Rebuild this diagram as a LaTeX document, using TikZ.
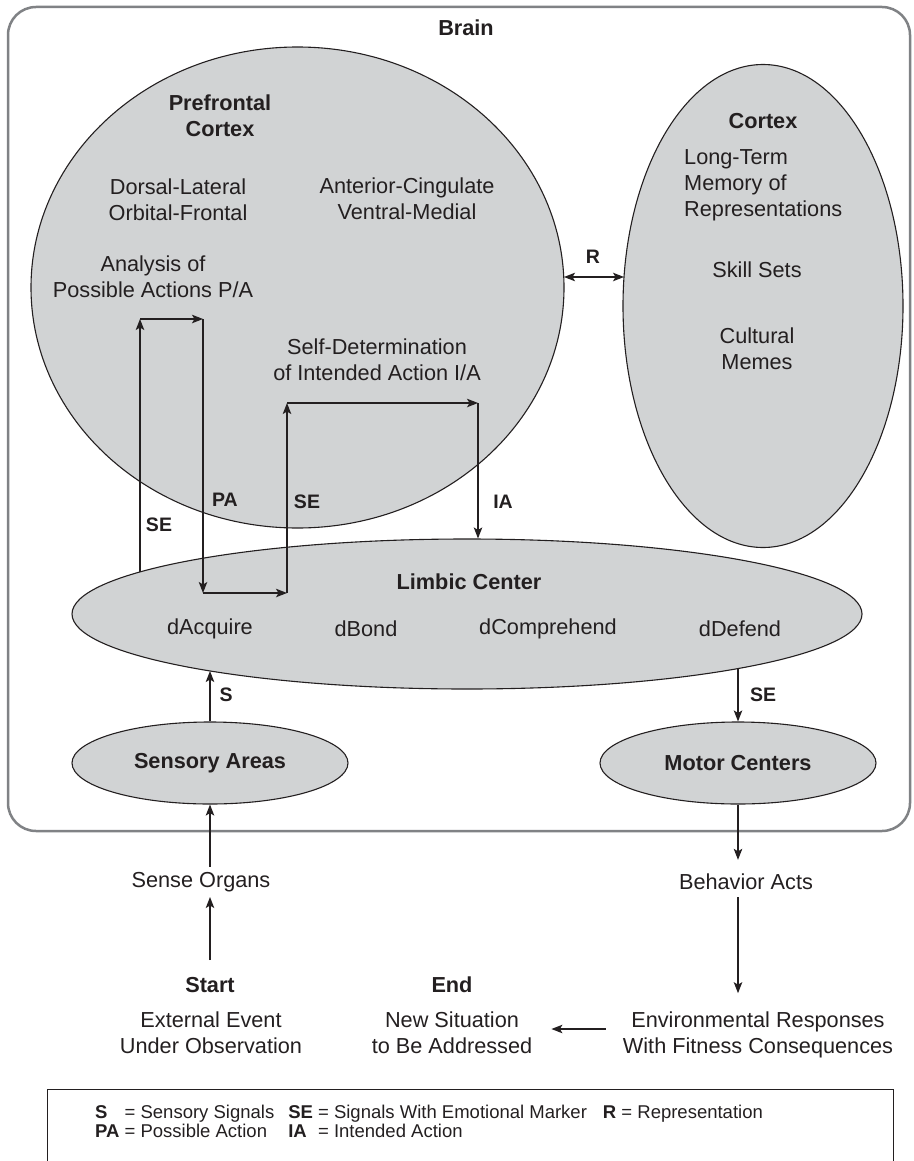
\documentclass[tikz,border=0pt]{standalone}
\usepackage{fontspec}
\setmainfont{Liberation Sans}
\usetikzlibrary{arrows.meta,shapes.geometric,calc}
\definecolor{ink}{HTML}{231F20}
\definecolor{lobefill}{HTML}{D1D3D4}
\definecolor{framegray}{HTML}{808285}
\begin{document}
\begin{tikzpicture}[x=1pt,y=-1pt,
  lobe/.style={ellipse, draw=ink, fill=lobefill, line width=1.1pt, inner sep=0pt},
  txt/.style={text=ink, font=\fontsize{21.7}{26}\selectfont, align=center, inner sep=0pt},
  btxt/.style={text=ink, font=\fontsize{21.7}{26}\selectfont\bfseries, align=center, inner sep=0pt},
  lbl/.style={text=ink, font=\fontsize{19.5}{22}\selectfont\bfseries, inner sep=0pt},
  conn/.style={draw=ink, line width=1.2pt, -{Stealth[length=11pt,width=8.5pt,inset=2.5pt]}},
  conntwo/.style={draw=ink, line width=1.2pt, {Stealth[length=11pt,width=8.5pt,inset=2.5pt]}-{Stealth[length=11pt,width=8.5pt,inset=2.5pt]}},
  keytxt/.style={text=ink, font=\fontsize{18.5}{19.5}\selectfont, inner sep=0pt, anchor=base west},
]
\useasboundingbox (0,0) rectangle (913,1161);

% brain frame
\node[draw=framegray, line width=2.5pt, rounded corners=28pt, minimum width=902pt, minimum height=824pt, inner sep=0pt] (brainbox) at (459,419) {};

% lobes
\node[lobe, minimum width=533pt, minimum height=481pt] (pfc) at (297.5,287.5) {};
\node[lobe, minimum width=280pt, minimum height=483pt] (ctx) at (763,306) {};
\node[lobe, minimum width=790pt, minimum height=150pt] (limbic) at (467,614) {};
\node[lobe, minimum width=276pt, minimum height=82pt] (sens) at (210,763) {};
\node[lobe, minimum width=276pt, minimum height=82pt] (motor) at (738,763) {};

% texts
\node[btxt] (brainlbl) at (466,28) {Brain};
\node[btxt] (pfclbl) at (220,116) {Prefrontal\\Cortex};
\node[txt] (dl) at (178,199.5) {Dorsal-Lateral\\Orbital-Frontal};
\node[txt] (ac) at (407,199) {Anterior-Cingulate\\Ventral-Medial};
\node[txt] (pa) at (153,276.5) {Analysis of\\Possible Actions P/A};
\node[txt] (sd) at (377,360) {Self-Determination\\of Intended Action I/A};
\node[btxt] (ctxlbl) at (763,121) {Cortex};
\node[txt, align=left, anchor=west] (ltm) at (684,185) {Long-Term\\Memory of\\Representations};
\node[txt] (skill) at (757,270) {Skill Sets};
\node[txt] (meme) at (757,348.5) {Cultural\\Memes};
\node[btxt] (limlbl) at (469,582) {Limbic Center};
\node[txt] (dacq) at (210,629) {dAcquire};
\node[txt] (dbond) at (366,629) {dBond};
\node[txt] (dcomp) at (548,629) {dComprehend};
\node[txt] (ddef) at (740,629) {dDefend};
\node[btxt] (senslbl) at (sens) {Sensory Areas};
\node[btxt] (motlbl) at (motor) {Motor Centers};
\node[txt] (sense) at (201,882) {Sense Organs};
\node[txt] (behav) at (746,882) {Behavior Acts};
\node[btxt] (start) at (210,985) {Start};
\node[btxt] (end) at (452,985) {End};
\node[txt] (ext) at (211,1032.5) {External Event\\Under Observation};
\node[txt] (new) at (452,1032.5) {New Situation\\to Be Addressed};
\node[txt] (env) at (758,1034.5) {Environmental Responses\\With Fitness Consequences};

% signal loop inside the brain
\coordinate (p0) at (140,572);
\coordinate (p1) at (140,319);
\coordinate (p2) at (203,319);
\coordinate (p3) at (203,593);
\coordinate (p4) at (287,593);
\coordinate (p5) at (287,403);
\coordinate (p6) at (478,403);
\draw[conn] (p0) -- (p1);
\draw[conn] (p1) -- (p2);
\draw[conn] (p2) -- (p3);
\draw[conn] (p3) -- (p4);
\draw[conn] (p4) -- (p5);
\draw[conn] (p5) -- (p6);
\draw[conn] (p6) -- (p6 |- limbic.north);

\node[lbl] (lse1) at (159,525) {SE};
\node[lbl] (lpa) at (225,500) {PA};
\node[lbl] (lse2) at (307,502) {SE};
\node[lbl] (lia) at (503,502) {IA};

% representation
\coordinate (rl) at (564,277);
\coordinate (rr) at (624,277);
\draw[conntwo] (rl) -- (rr);
\node[lbl] (lr) at (593,257) {R};

% sensory / motor
\coordinate (sl) at (210,671);
\coordinate (ml) at (738,668.6);
\draw[conn] (sens.north) -- (sl);
\node[lbl] (ls) at (226,695) {S};
\draw[conn] (ml) -- (motor.north);
\node[lbl] (lse3) at (763,695) {SE};

% outside flow
\draw[conn, shorten <=17pt, shorten >=5pt] (start.north) -- (start.north |- sense.south);
\draw[conn, shorten <=5pt] (sens.south |- sense.north) -- (sens.south);
\draw[conn, shorten >=14pt] (motor.south) -- (motor.south |- behav.north);
\draw[conn, shorten <=7pt, shorten >=18pt] (motor.south |- behav.south) -- (motor.south |- env.north);
\coordinate (gy) at (0,1029);
\draw[conn, shorten <=17pt, shorten >=19pt] (env.west |- gy) -- (new.east |- gy);

% legend
\draw[draw=ink, line width=1pt] (47,1170) -- (47,1089) -- (893,1089) -- (893,1170);
\node[keytxt] (legend) at (95,1118) {\begin{tabular}[t]{@{}l@{\ }l@{\hspace{14pt}}l@{\ }l@{\hspace{16pt}}l@{\ }l@{}}
\textbf{S} & = Sensory Signals & \textbf{SE} & = Signals With Emotional Marker & \textbf{R} & = Representation\\
\textbf{PA} & = Possible Action & \textbf{IA} & = Intended Action & & \\
\end{tabular}};
\end{tikzpicture}
\end{document}
